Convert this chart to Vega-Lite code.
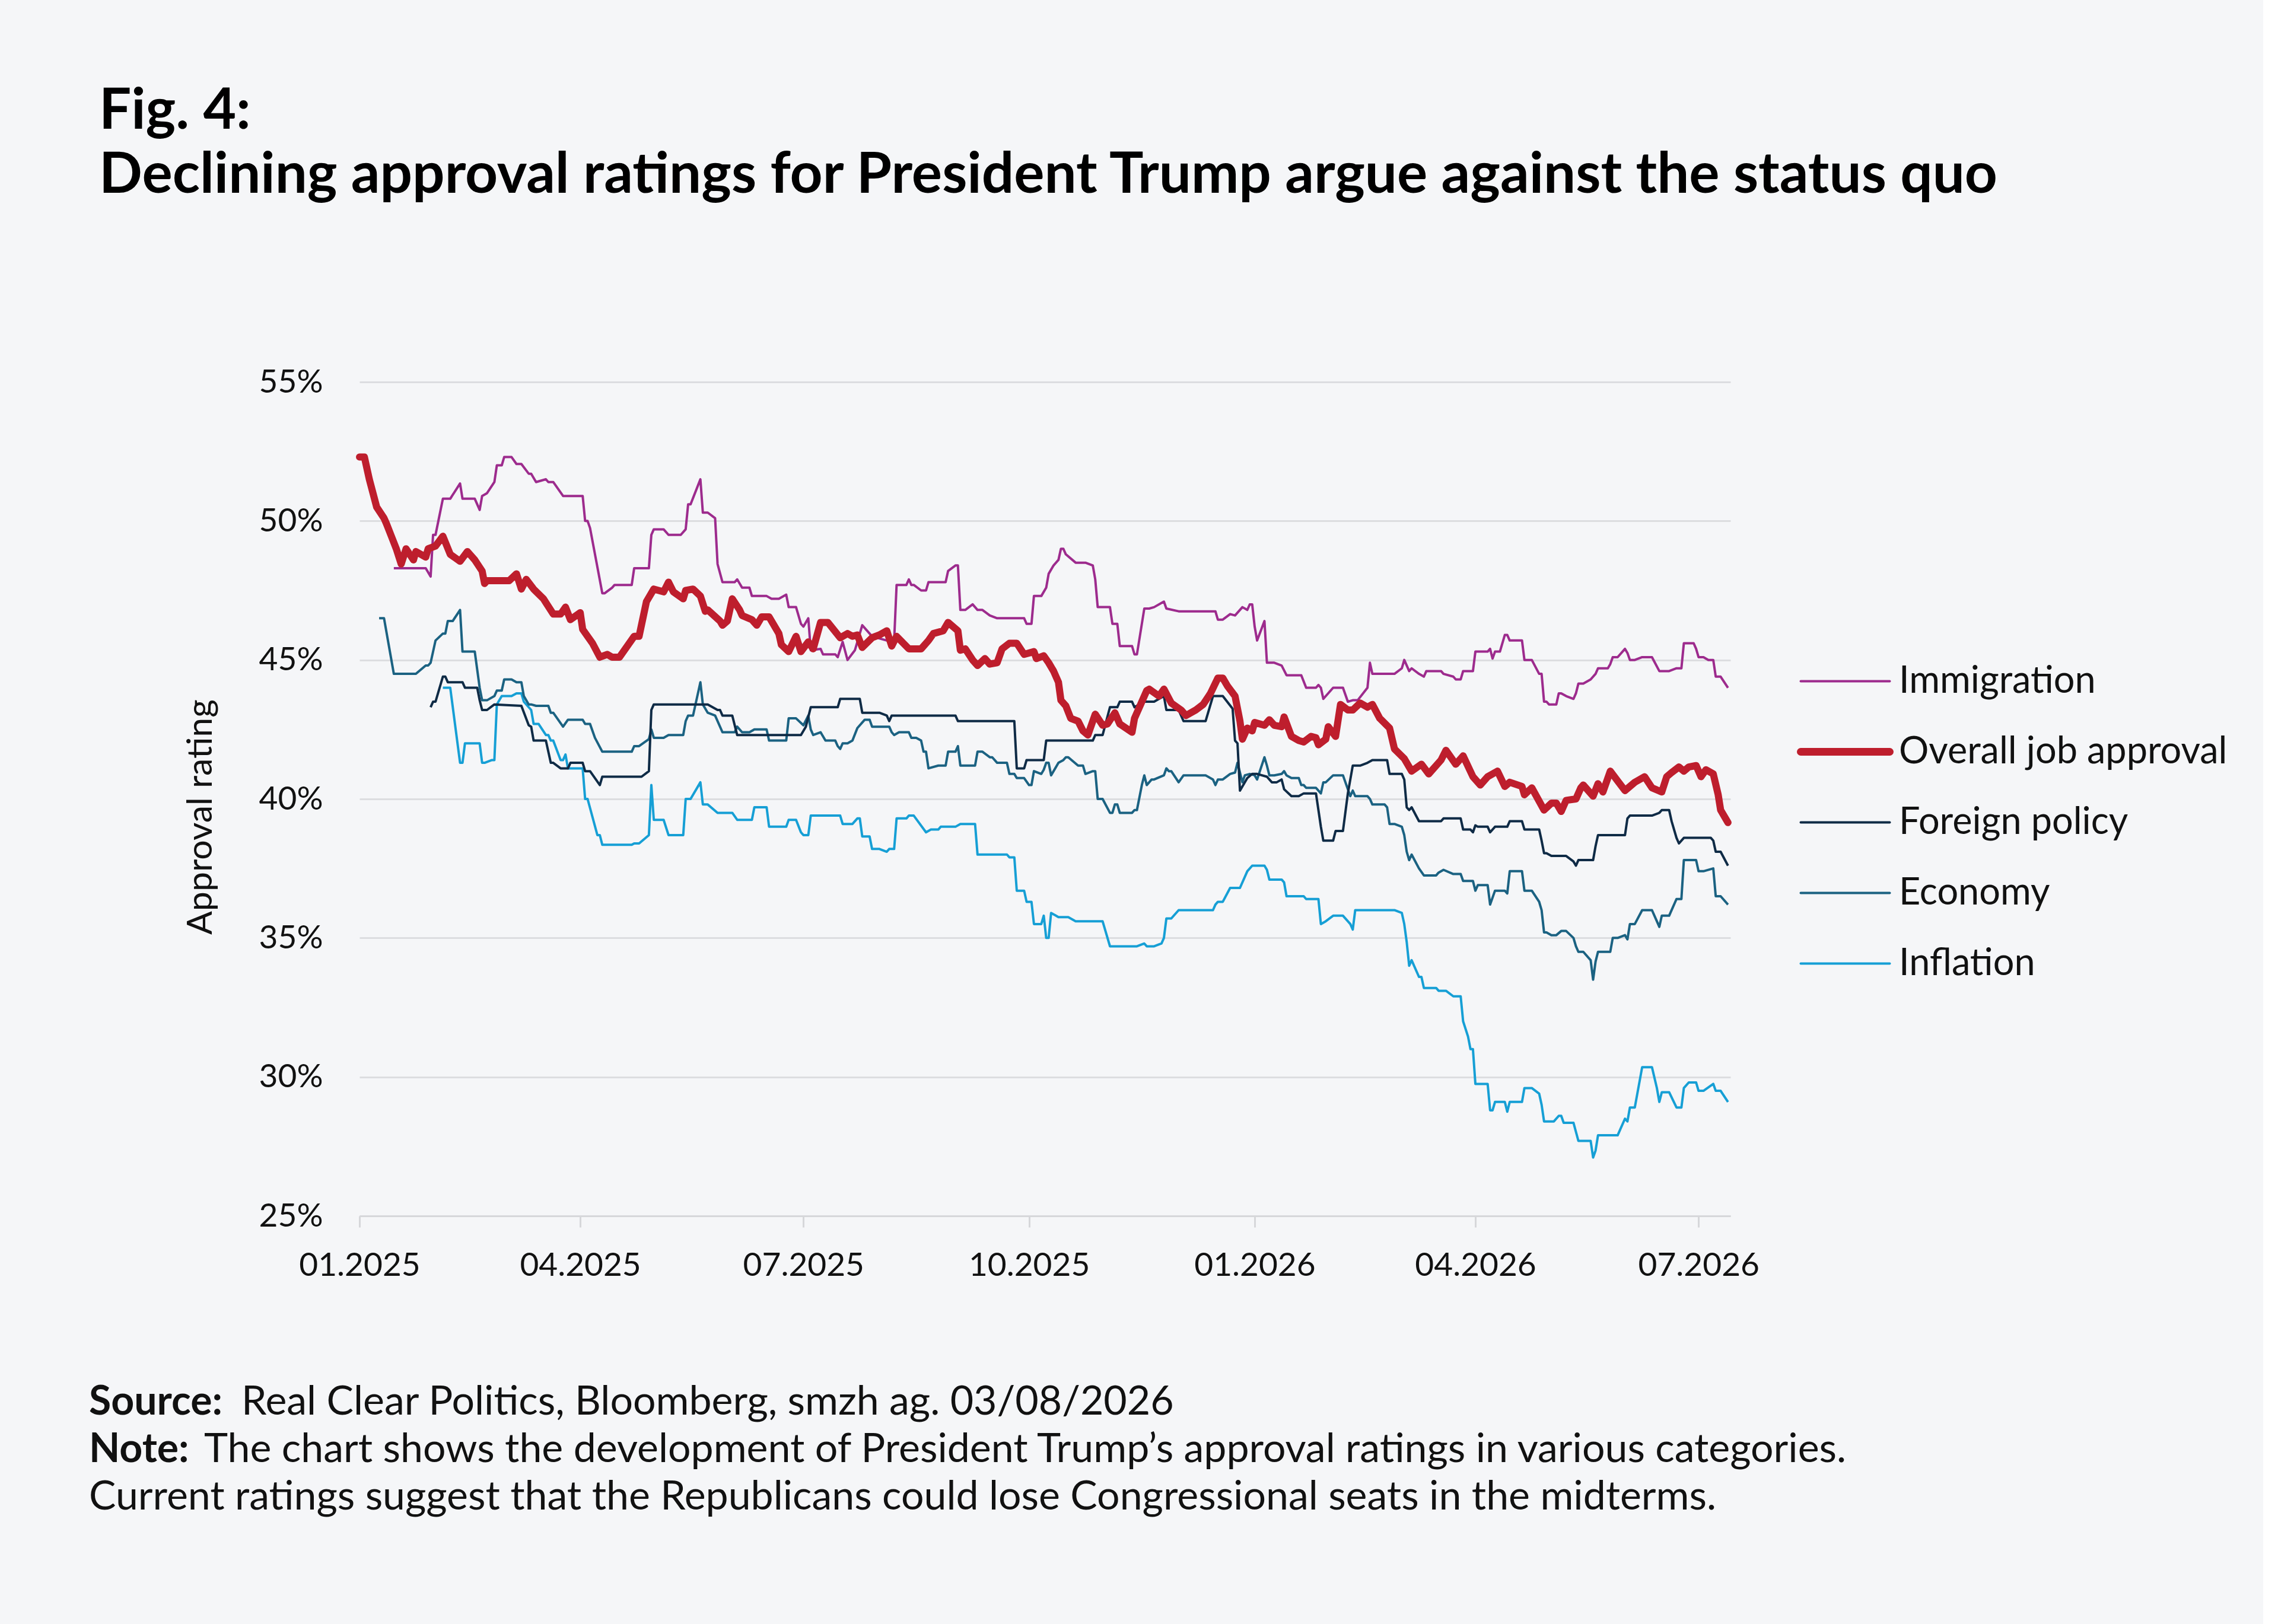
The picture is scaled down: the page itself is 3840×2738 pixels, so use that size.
{
"$schema": "https://vega.github.io/schema/vega-lite/v6.json",
"background": "#f5f6f8",
"padding": {"left": 150, "top": 140, "right": 60, "bottom": 161},
"bounds": "flush",
"spacing": 295,
"title": {"text": ["Fig. 4:", "Declining approval ratings for President Trump argue against the status quo"], "anchor": "start", "frame": "bounds", "font": "Lato", "fontSize": 96, "fontWeight": "bold", "color": "#000000", "lineHeight": 108, "offset": 272, "dx": 17},
"config": {
  "font": "Lato",
  "view": {"stroke": null},
  "axis": {"labelFont": "Lato", "labelFontSize": 55, "labelColor": "#111111", "labelLimit": 0, "titleFont": "Lato", "titleFontSize": 59, "titleFontWeight": "normal", "titleColor": "#111111"}
},
"datasets": {
"inflation": [
{"d":"2025-02-04","v":44.0},{"d":"2025-02-07","v":44.0},{"d":"2025-02-11","v":41.3},{"d":"2025-02-12","v":41.3},{"d":"2025-02-13","v":42.0},{"d":"2025-02-19","v":42.0},{"d":"2025-02-20","v":41.3},{"d":"2025-02-21","v":41.3},{"d":"2025-02-24","v":41.4},{"d":"2025-02-25","v":41.4},{"d":"2025-02-26","v":43.4},{"d":"2025-02-28","v":43.7},{"d":"2025-03-04","v":43.7},{"d":"2025-03-06","v":43.8},{"d":"2025-03-08","v":43.8},{"d":"2025-03-09","v":43.5},{"d":"2025-03-12","v":43.2},{"d":"2025-03-13","v":42.7},{"d":"2025-03-15","v":42.7},{"d":"2025-03-18","v":42.3},{"d":"2025-03-19","v":42.3},{"d":"2025-03-20","v":42.1},{"d":"2025-03-21","v":42.1},{"d":"2025-03-24","v":41.4},{"d":"2025-03-25","v":41.4},{"d":"2025-03-26","v":41.6},{"d":"2025-03-27","v":41.1},{"d":"2025-04-02","v":41.1},{"d":"2025-04-03","v":40.0},{"d":"2025-04-04","v":40.0},{"d":"2025-04-08","v":38.7},{"d":"2025-04-09","v":38.7},{"d":"2025-04-10","v":38.35},{"d":"2025-04-22","v":38.35},{"d":"2025-04-23","v":38.4},{"d":"2025-04-25","v":38.4},{"d":"2025-04-29","v":38.7},{"d":"2025-04-30","v":40.5},{"d":"2025-05-01","v":39.25},{"d":"2025-05-05","v":39.25},{"d":"2025-05-07","v":38.7},{"d":"2025-05-13","v":38.7},{"d":"2025-05-14","v":40.0},{"d":"2025-05-16","v":40.0},{"d":"2025-05-20","v":40.6},{"d":"2025-05-21","v":39.8},{"d":"2025-05-23","v":39.8},{"d":"2025-05-27","v":39.5},{"d":"2025-06-02","v":39.5},{"d":"2025-06-04","v":39.25},{"d":"2025-06-10","v":39.25},{"d":"2025-06-11","v":39.7},{"d":"2025-06-16","v":39.7},{"d":"2025-06-17","v":39.0},{"d":"2025-06-24","v":39.0},{"d":"2025-06-25","v":39.25},{"d":"2025-06-28","v":39.25},{"d":"2025-06-30","v":38.8},{"d":"2025-07-01","v":38.7},{"d":"2025-07-03","v":38.7},{"d":"2025-07-04","v":39.4},{"d":"2025-07-16","v":39.4},{"d":"2025-07-17","v":39.1},{"d":"2025-07-21","v":39.1},{"d":"2025-07-23","v":39.3},{"d":"2025-07-24","v":39.3},{"d":"2025-07-25","v":38.65},{"d":"2025-07-28","v":38.65},{"d":"2025-07-29","v":38.2},{"d":"2025-08-01","v":38.2},{"d":"2025-08-04","v":38.1},{"d":"2025-08-05","v":38.2},{"d":"2025-08-07","v":38.2},{"d":"2025-08-08","v":39.3},{"d":"2025-08-12","v":39.3},{"d":"2025-08-13","v":39.4},{"d":"2025-08-15","v":39.4},{"d":"2025-08-20","v":38.8},{"d":"2025-08-22","v":38.9},{"d":"2025-08-25","v":38.9},{"d":"2025-08-26","v":39.0},{"d":"2025-09-01","v":39.0},{"d":"2025-09-03","v":39.1},{"d":"2025-09-09","v":39.1},{"d":"2025-09-10","v":38.0},{"d":"2025-09-22","v":38.0},{"d":"2025-09-23","v":37.9},{"d":"2025-09-25","v":37.9},{"d":"2025-09-26","v":36.7},{"d":"2025-09-29","v":36.7},{"d":"2025-09-30","v":36.3},{"d":"2025-10-02","v":36.3},{"d":"2025-10-03","v":35.5},{"d":"2025-10-06","v":35.5},{"d":"2025-10-07","v":35.8},{"d":"2025-10-08","v":35.0},{"d":"2025-10-09","v":35.0},{"d":"2025-10-10","v":35.9},{"d":"2025-10-13","v":35.75},{"d":"2025-10-17","v":35.75},{"d":"2025-10-20","v":35.6},{"d":"2025-10-31","v":35.6},{"d":"2025-11-03","v":34.7},{"d":"2025-11-14","v":34.7},{"d":"2025-11-17","v":34.8},{"d":"2025-11-18","v":34.7},{"d":"2025-11-21","v":34.7},{"d":"2025-11-24","v":34.8},{"d":"2025-11-25","v":35.0},{"d":"2025-11-26","v":35.7},{"d":"2025-11-28","v":35.7},{"d":"2025-12-01","v":36.0},{"d":"2025-12-15","v":36.0},{"d":"2025-12-16","v":36.2},{"d":"2025-12-17","v":36.3},{"d":"2025-12-19","v":36.3},{"d":"2025-12-22","v":36.8},{"d":"2025-12-26","v":36.8},{"d":"2025-12-29","v":37.4},{"d":"2025-12-31","v":37.6},{"d":"2026-01-05","v":37.6},{"d":"2026-01-06","v":37.45},{"d":"2026-01-07","v":37.1},{"d":"2026-01-12","v":37.1},{"d":"2026-01-13","v":37.0},{"d":"2026-01-14","v":36.5},{"d":"2026-01-21","v":36.5},{"d":"2026-01-22","v":36.4},{"d":"2026-01-27","v":36.4},{"d":"2026-01-28","v":35.5},{"d":"2026-01-30","v":35.6},{"d":"2026-02-02","v":35.8},{"d":"2026-02-06","v":35.8},{"d":"2026-02-09","v":35.5},{"d":"2026-02-10","v":35.3},{"d":"2026-02-11","v":36.0},{"d":"2026-02-27","v":36.0},{"d":"2026-03-02","v":35.9},{"d":"2026-03-03","v":35.5},{"d":"2026-03-04","v":34.85},{"d":"2026-03-05","v":34.0},{"d":"2026-03-06","v":34.2},{"d":"2026-03-09","v":33.6},{"d":"2026-03-10","v":33.6},{"d":"2026-03-11","v":33.2},{"d":"2026-03-16","v":33.2},{"d":"2026-03-17","v":33.1},{"d":"2026-03-20","v":33.1},{"d":"2026-03-23","v":32.9},{"d":"2026-03-26","v":32.9},{"d":"2026-03-27","v":32.0},{"d":"2026-03-29","v":31.45},{"d":"2026-03-30","v":31.0},{"d":"2026-03-31","v":31.0},{"d":"2026-04-01","v":29.75},{"d":"2026-04-06","v":29.75},{"d":"2026-04-07","v":28.8},{"d":"2026-04-08","v":28.8},{"d":"2026-04-09","v":29.1},{"d":"2026-04-13","v":29.1},{"d":"2026-04-14","v":28.75},{"d":"2026-04-15","v":29.1},{"d":"2026-04-20","v":29.1},{"d":"2026-04-21","v":29.6},{"d":"2026-04-24","v":29.6},{"d":"2026-04-27","v":29.4},{"d":"2026-04-28","v":29.0},{"d":"2026-04-29","v":28.4},{"d":"2026-05-03","v":28.4},{"d":"2026-05-05","v":28.6},{"d":"2026-05-06","v":28.6},{"d":"2026-05-07","v":28.35},{"d":"2026-05-11","v":28.35},{"d":"2026-05-13","v":27.7},{"d":"2026-05-18","v":27.7},{"d":"2026-05-19","v":27.1},{"d":"2026-05-20","v":27.35},{"d":"2026-05-21","v":27.9},{"d":"2026-05-29","v":27.9},{"d":"2026-06-01","v":28.5},{"d":"2026-06-02","v":28.4},{"d":"2026-06-03","v":28.9},{"d":"2026-06-05","v":28.9},{"d":"2026-06-08","v":30.35},{"d":"2026-06-12","v":30.35},{"d":"2026-06-14","v":29.6},{"d":"2026-06-15","v":29.1},{"d":"2026-06-16","v":29.45},{"d":"2026-06-19","v":29.45},{"d":"2026-06-22","v":28.9},{"d":"2026-06-24","v":28.9},{"d":"2026-06-25","v":29.6},{"d":"2026-06-27","v":29.8},{"d":"2026-06-30","v":29.8},{"d":"2026-07-01","v":29.5},{"d":"2026-07-03","v":29.5},{"d":"2026-07-07","v":29.75},{"d":"2026-07-08","v":29.5},{"d":"2026-07-10","v":29.5},{"d":"2026-07-13","v":29.1}
],
"economy": [
{"d":"2025-01-09","v":46.5},{"d":"2025-01-11","v":46.5},{"d":"2025-01-14","v":45.0},{"d":"2025-01-15","v":44.5},{"d":"2025-01-24","v":44.5},{"d":"2025-01-28","v":44.8},{"d":"2025-01-29","v":44.8},{"d":"2025-01-30","v":44.9},{"d":"2025-02-01","v":45.7},{"d":"2025-02-04","v":45.95},{"d":"2025-02-05","v":45.95},{"d":"2025-02-06","v":46.4},{"d":"2025-02-08","v":46.4},{"d":"2025-02-11","v":46.8},{"d":"2025-02-12","v":45.3},{"d":"2025-02-17","v":45.3},{"d":"2025-02-19","v":44.0},{"d":"2025-02-20","v":43.55},{"d":"2025-02-22","v":43.55},{"d":"2025-02-25","v":43.7},{"d":"2025-02-26","v":43.9},{"d":"2025-02-28","v":43.9},{"d":"2025-03-01","v":44.3},{"d":"2025-03-04","v":44.3},{"d":"2025-03-06","v":44.2},{"d":"2025-03-08","v":44.2},{"d":"2025-03-09","v":43.7},{"d":"2025-03-11","v":43.4},{"d":"2025-03-12","v":43.4},{"d":"2025-03-14","v":43.35},{"d":"2025-03-19","v":43.35},{"d":"2025-03-20","v":43.1},{"d":"2025-03-21","v":43.1},{"d":"2025-03-25","v":42.6},{"d":"2025-03-27","v":42.85},{"d":"2025-04-02","v":42.85},{"d":"2025-04-03","v":42.7},{"d":"2025-04-05","v":42.7},{"d":"2025-04-07","v":42.2},{"d":"2025-04-10","v":41.7},{"d":"2025-04-22","v":41.7},{"d":"2025-04-23","v":41.9},{"d":"2025-04-25","v":41.9},{"d":"2025-04-29","v":42.15},{"d":"2025-04-30","v":42.5},{"d":"2025-05-01","v":42.2},{"d":"2025-05-05","v":42.2},{"d":"2025-05-07","v":42.3},{"d":"2025-05-13","v":42.3},{"d":"2025-05-14","v":42.8},{"d":"2025-05-15","v":43.0},{"d":"2025-05-17","v":43.0},{"d":"2025-05-20","v":44.2},{"d":"2025-05-21","v":43.4},{"d":"2025-05-23","v":43.1},{"d":"2025-05-26","v":43.0},{"d":"2025-05-29","v":42.4},{"d":"2025-06-03","v":42.4},{"d":"2025-06-04","v":42.6},{"d":"2025-06-06","v":42.4},{"d":"2025-06-09","v":42.4},{"d":"2025-06-11","v":42.5},{"d":"2025-06-16","v":42.5},{"d":"2025-06-17","v":42.1},{"d":"2025-06-24","v":42.1},{"d":"2025-06-25","v":42.9},{"d":"2025-06-28","v":42.9},{"d":"2025-07-01","v":42.65},{"d":"2025-07-03","v":43.0},{"d":"2025-07-04","v":42.5},{"d":"2025-07-05","v":42.3},{"d":"2025-07-08","v":42.4},{"d":"2025-07-10","v":42.1},{"d":"2025-07-14","v":42.1},{"d":"2025-07-15","v":41.9},{"d":"2025-07-16","v":41.8},{"d":"2025-07-17","v":42.0},{"d":"2025-07-19","v":42.0},{"d":"2025-07-21","v":42.1},{"d":"2025-07-23","v":42.55},{"d":"2025-07-26","v":42.85},{"d":"2025-07-28","v":42.85},{"d":"2025-07-29","v":42.6},{"d":"2025-08-05","v":42.6},{"d":"2025-08-06","v":42.4},{"d":"2025-08-07","v":42.3},{"d":"2025-08-09","v":42.4},{"d":"2025-08-13","v":42.4},{"d":"2025-08-14","v":42.2},{"d":"2025-08-16","v":42.2},{"d":"2025-08-18","v":42.1},{"d":"2025-08-19","v":41.7},{"d":"2025-08-20","v":41.7},{"d":"2025-08-21","v":41.1},{"d":"2025-08-25","v":41.2},{"d":"2025-08-28","v":41.2},{"d":"2025-08-29","v":41.7},{"d":"2025-09-01","v":41.7},{"d":"2025-09-02","v":41.9},{"d":"2025-09-03","v":41.2},{"d":"2025-09-09","v":41.2},{"d":"2025-09-10","v":41.7},{"d":"2025-09-12","v":41.7},{"d":"2025-09-15","v":41.5},{"d":"2025-09-16","v":41.5},{"d":"2025-09-18","v":41.3},{"d":"2025-09-22","v":41.3},{"d":"2025-09-23","v":40.9},{"d":"2025-09-25","v":40.9},{"d":"2025-09-26","v":40.75},{"d":"2025-09-29","v":40.75},{"d":"2025-10-01","v":40.5},{"d":"2025-10-02","v":40.5},{"d":"2025-10-03","v":41.0},{"d":"2025-10-06","v":40.9},{"d":"2025-10-07","v":41.05},{"d":"2025-10-08","v":41.3},{"d":"2025-10-09","v":41.3},{"d":"2025-10-10","v":40.85},{"d":"2025-10-13","v":41.3},{"d":"2025-10-15","v":41.4},{"d":"2025-10-16","v":41.5},{"d":"2025-10-17","v":41.5},{"d":"2025-10-21","v":41.2},{"d":"2025-10-23","v":41.2},{"d":"2025-10-24","v":40.9},{"d":"2025-10-27","v":41.0},{"d":"2025-10-28","v":41.0},{"d":"2025-10-29","v":40.0},{"d":"2025-10-31","v":40.0},{"d":"2025-11-03","v":39.5},{"d":"2025-11-04","v":39.5},{"d":"2025-11-05","v":39.8},{"d":"2025-11-06","v":39.8},{"d":"2025-11-07","v":39.5},{"d":"2025-11-12","v":39.5},{"d":"2025-11-13","v":39.6},{"d":"2025-11-14","v":39.6},{"d":"2025-11-16","v":40.5},{"d":"2025-11-17","v":40.85},{"d":"2025-11-18","v":40.5},{"d":"2025-11-20","v":40.7},{"d":"2025-11-21","v":40.7},{"d":"2025-11-25","v":40.85},{"d":"2025-11-26","v":41.1},{"d":"2025-11-27","v":41.0},{"d":"2025-11-28","v":41.0},{"d":"2025-12-01","v":40.6},{"d":"2025-12-03","v":40.85},{"d":"2025-12-12","v":40.85},{"d":"2025-12-15","v":40.7},{"d":"2025-12-16","v":40.5},{"d":"2025-12-17","v":40.7},{"d":"2025-12-19","v":40.7},{"d":"2025-12-22","v":40.9},{"d":"2025-12-24","v":40.95},{"d":"2025-12-25","v":41.3},{"d":"2025-12-27","v":40.6},{"d":"2025-12-28","v":40.85},{"d":"2025-12-30","v":40.9},{"d":"2026-01-01","v":40.85},{"d":"2026-01-02","v":40.7},{"d":"2026-01-05","v":41.5},{"d":"2026-01-06","v":41.2},{"d":"2026-01-07","v":40.85},{"d":"2026-01-09","v":40.85},{"d":"2026-01-12","v":40.9},{"d":"2026-01-13","v":41.0},{"d":"2026-01-14","v":40.85},{"d":"2026-01-16","v":40.75},{"d":"2026-01-19","v":40.75},{"d":"2026-01-20","v":40.5},{"d":"2026-01-21","v":40.5},{"d":"2026-01-22","v":40.4},{"d":"2026-01-26","v":40.4},{"d":"2026-01-28","v":40.2},{"d":"2026-01-29","v":40.6},{"d":"2026-01-30","v":40.6},{"d":"2026-02-02","v":40.85},{"d":"2026-02-06","v":40.85},{"d":"2026-02-08","v":40.35},{"d":"2026-02-09","v":40.1},{"d":"2026-02-10","v":40.3},{"d":"2026-02-11","v":40.1},{"d":"2026-02-16","v":40.1},{"d":"2026-02-17","v":40.0},{"d":"2026-02-18","v":39.8},{"d":"2026-02-23","v":39.8},{"d":"2026-02-24","v":39.7},{"d":"2026-02-25","v":39.1},{"d":"2026-02-27","v":39.1},{"d":"2026-03-02","v":39.0},{"d":"2026-03-03","v":38.7},{"d":"2026-03-04","v":38.1},{"d":"2026-03-05","v":37.8},{"d":"2026-03-06","v":38.0},{"d":"2026-03-09","v":37.5},{"d":"2026-03-11","v":37.25},{"d":"2026-03-16","v":37.25},{"d":"2026-03-17","v":37.35},{"d":"2026-03-19","v":37.45},{"d":"2026-03-23","v":37.3},{"d":"2026-03-26","v":37.3},{"d":"2026-03-27","v":37.05},{"d":"2026-03-31","v":37.05},{"d":"2026-04-01","v":36.7},{"d":"2026-04-02","v":36.9},{"d":"2026-04-06","v":36.9},{"d":"2026-04-07","v":36.2},{"d":"2026-04-08","v":36.45},{"d":"2026-04-09","v":36.7},{"d":"2026-04-13","v":36.7},{"d":"2026-04-14","v":36.6},{"d":"2026-04-15","v":37.4},{"d":"2026-04-20","v":37.4},{"d":"2026-04-21","v":36.7},{"d":"2026-04-24","v":36.7},{"d":"2026-04-27","v":36.3},{"d":"2026-04-28","v":36.0},{"d":"2026-04-29","v":35.2},{"d":"2026-04-30","v":35.2},{"d":"2026-05-02","v":35.1},{"d":"2026-05-04","v":35.1},{"d":"2026-05-06","v":35.25},{"d":"2026-05-08","v":35.25},{"d":"2026-05-11","v":35.0},{"d":"2026-05-12","v":34.7},{"d":"2026-05-13","v":34.5},{"d":"2026-05-15","v":34.5},{"d":"2026-05-18","v":34.2},{"d":"2026-05-19","v":33.5},{"d":"2026-05-20","v":34.15},{"d":"2026-05-21","v":34.5},{"d":"2026-05-26","v":34.5},{"d":"2026-05-27","v":35.0},{"d":"2026-05-29","v":35.0},{"d":"2026-06-01","v":35.1},{"d":"2026-06-02","v":34.95},{"d":"2026-06-03","v":35.5},{"d":"2026-06-05","v":35.5},{"d":"2026-06-08","v":36.0},{"d":"2026-06-12","v":36.0},{"d":"2026-06-15","v":35.4},{"d":"2026-06-16","v":35.8},{"d":"2026-06-19","v":35.8},{"d":"2026-06-22","v":36.4},{"d":"2026-06-24","v":36.4},{"d":"2026-06-25","v":37.8},{"d":"2026-06-30","v":37.8},{"d":"2026-07-01","v":37.4},{"d":"2026-07-03","v":37.4},{"d":"2026-07-07","v":37.5},{"d":"2026-07-08","v":36.5},{"d":"2026-07-10","v":36.5},{"d":"2026-07-13","v":36.2}
],
"foreign": [
{"d":"2025-01-30","v":43.3},{"d":"2025-01-31","v":43.5},{"d":"2025-02-01","v":43.5},{"d":"2025-02-04","v":44.4},{"d":"2025-02-05","v":44.4},{"d":"2025-02-06","v":44.2},{"d":"2025-02-12","v":44.2},{"d":"2025-02-13","v":44.0},{"d":"2025-02-18","v":44.0},{"d":"2025-02-19","v":43.55},{"d":"2025-02-20","v":43.2},{"d":"2025-02-22","v":43.2},{"d":"2025-02-25","v":43.4},{"d":"2025-03-08","v":43.35},{"d":"2025-03-11","v":42.65},{"d":"2025-03-12","v":42.6},{"d":"2025-03-13","v":42.1},{"d":"2025-03-18","v":42.1},{"d":"2025-03-20","v":41.3},{"d":"2025-03-21","v":41.3},{"d":"2025-03-24","v":41.1},{"d":"2025-03-27","v":41.1},{"d":"2025-03-28","v":41.3},{"d":"2025-04-02","v":41.3},{"d":"2025-04-03","v":41.0},{"d":"2025-04-05","v":41.0},{"d":"2025-04-09","v":40.5},{"d":"2025-04-10","v":40.8},{"d":"2025-04-26","v":40.8},{"d":"2025-04-29","v":41.0},{"d":"2025-04-30","v":43.2},{"d":"2025-05-01","v":43.4},{"d":"2025-05-23","v":43.4},{"d":"2025-05-27","v":43.2},{"d":"2025-05-28","v":43.2},{"d":"2025-05-29","v":43.0},{"d":"2025-06-02","v":43.0},{"d":"2025-06-04","v":42.3},{"d":"2025-06-30","v":42.3},{"d":"2025-07-02","v":42.6},{"d":"2025-07-04","v":43.3},{"d":"2025-07-15","v":43.3},{"d":"2025-07-16","v":43.6},{"d":"2025-07-24","v":43.6},{"d":"2025-07-25","v":43.1},{"d":"2025-08-01","v":43.1},{"d":"2025-08-04","v":43.0},{"d":"2025-08-05","v":42.8},{"d":"2025-08-06","v":43.0},{"d":"2025-09-01","v":43.0},{"d":"2025-09-02","v":42.8},{"d":"2025-09-25","v":42.8},{"d":"2025-09-26","v":41.1},{"d":"2025-09-29","v":41.1},{"d":"2025-09-30","v":41.4},{"d":"2025-10-07","v":41.4},{"d":"2025-10-08","v":42.1},{"d":"2025-10-27","v":42.1},{"d":"2025-10-28","v":42.3},{"d":"2025-10-31","v":42.3},{"d":"2025-11-03","v":43.3},{"d":"2025-11-06","v":43.3},{"d":"2025-11-07","v":43.5},{"d":"2025-11-12","v":43.5},{"d":"2025-11-13","v":43.3},{"d":"2025-11-17","v":43.5},{"d":"2025-11-21","v":43.5},{"d":"2025-11-25","v":43.7},{"d":"2025-11-26","v":43.2},{"d":"2025-12-01","v":43.2},{"d":"2025-12-03","v":42.8},{"d":"2025-12-12","v":42.8},{"d":"2025-12-15","v":43.7},{"d":"2025-12-19","v":43.7},{"d":"2025-12-23","v":43.25},{"d":"2025-12-24","v":42.1},{"d":"2025-12-25","v":42.0},{"d":"2025-12-26","v":40.3},{"d":"2025-12-29","v":40.75},{"d":"2025-12-31","v":40.9},{"d":"2026-01-02","v":40.9},{"d":"2026-01-06","v":40.8},{"d":"2026-01-08","v":40.6},{"d":"2026-01-10","v":40.6},{"d":"2026-01-12","v":40.7},{"d":"2026-01-13","v":40.35},{"d":"2026-01-16","v":40.1},{"d":"2026-01-19","v":40.1},{"d":"2026-01-21","v":40.2},{"d":"2026-01-26","v":40.2},{"d":"2026-01-28","v":39.0},{"d":"2026-01-29","v":38.5},{"d":"2026-02-02","v":38.5},{"d":"2026-02-03","v":38.85},{"d":"2026-02-06","v":38.85},{"d":"2026-02-08","v":40.2},{"d":"2026-02-10","v":41.2},{"d":"2026-02-13","v":41.2},{"d":"2026-02-16","v":41.3},{"d":"2026-02-18","v":41.4},{"d":"2026-02-24","v":41.4},{"d":"2026-02-25","v":40.9},{"d":"2026-03-02","v":40.9},{"d":"2026-03-03","v":40.7},{"d":"2026-03-04","v":39.7},{"d":"2026-03-05","v":39.6},{"d":"2026-03-06","v":39.7},{"d":"2026-03-09","v":39.2},{"d":"2026-03-18","v":39.2},{"d":"2026-03-19","v":39.3},{"d":"2026-03-26","v":39.3},{"d":"2026-03-27","v":38.9},{"d":"2026-03-30","v":38.9},{"d":"2026-03-31","v":38.8},{"d":"2026-04-01","v":39.05},{"d":"2026-04-02","v":39.0},{"d":"2026-04-06","v":39.0},{"d":"2026-04-07","v":38.8},{"d":"2026-04-09","v":39.0},{"d":"2026-04-14","v":39.0},{"d":"2026-04-15","v":39.2},{"d":"2026-04-20","v":39.2},{"d":"2026-04-21","v":38.9},{"d":"2026-04-27","v":38.9},{"d":"2026-04-28","v":38.5},{"d":"2026-04-29","v":38.05},{"d":"2026-04-30","v":38.05},{"d":"2026-05-02","v":37.95},{"d":"2026-05-08","v":37.95},{"d":"2026-05-11","v":37.75},{"d":"2026-05-12","v":37.6},{"d":"2026-05-13","v":37.8},{"d":"2026-05-19","v":37.8},{"d":"2026-05-20","v":38.3},{"d":"2026-05-21","v":38.7},{"d":"2026-06-01","v":38.7},{"d":"2026-06-02","v":39.3},{"d":"2026-06-03","v":39.4},{"d":"2026-06-12","v":39.4},{"d":"2026-06-15","v":39.5},{"d":"2026-06-16","v":39.6},{"d":"2026-06-19","v":39.6},{"d":"2026-06-20","v":39.2},{"d":"2026-06-22","v":38.6},{"d":"2026-06-23","v":38.4},{"d":"2026-06-25","v":38.6},{"d":"2026-07-06","v":38.6},{"d":"2026-07-07","v":38.5},{"d":"2026-07-08","v":38.1},{"d":"2026-07-10","v":38.1},{"d":"2026-07-13","v":37.6}
],
"immigration": [
{"d":"2025-01-15","v":48.3},{"d":"2025-01-28","v":48.3},{"d":"2025-01-30","v":48.0},{"d":"2025-01-31","v":49.5},{"d":"2025-02-01","v":49.5},{"d":"2025-02-04","v":50.8},{"d":"2025-02-07","v":50.8},{"d":"2025-02-11","v":51.35},{"d":"2025-02-12","v":50.8},{"d":"2025-02-17","v":50.8},{"d":"2025-02-19","v":50.4},{"d":"2025-02-20","v":50.9},{"d":"2025-02-22","v":51.0},{"d":"2025-02-25","v":51.4},{"d":"2025-02-26","v":52.0},{"d":"2025-02-28","v":52.0},{"d":"2025-03-01","v":52.3},{"d":"2025-03-04","v":52.3},{"d":"2025-03-06","v":52.05},{"d":"2025-03-08","v":52.05},{"d":"2025-03-11","v":51.7},{"d":"2025-03-12","v":51.7},{"d":"2025-03-14","v":51.4},{"d":"2025-03-18","v":51.5},{"d":"2025-03-19","v":51.4},{"d":"2025-03-21","v":51.4},{"d":"2025-03-25","v":50.9},{"d":"2025-04-02","v":50.9},{"d":"2025-04-03","v":50.0},{"d":"2025-04-04","v":50.0},{"d":"2025-04-05","v":49.75},{"d":"2025-04-10","v":47.4},{"d":"2025-04-11","v":47.4},{"d":"2025-04-14","v":47.6},{"d":"2025-04-15","v":47.7},{"d":"2025-04-22","v":47.7},{"d":"2025-04-23","v":48.3},{"d":"2025-04-29","v":48.3},{"d":"2025-04-30","v":49.5},{"d":"2025-05-01","v":49.7},{"d":"2025-05-05","v":49.7},{"d":"2025-05-07","v":49.5},{"d":"2025-05-12","v":49.5},{"d":"2025-05-14","v":49.7},{"d":"2025-05-15","v":50.6},{"d":"2025-05-16","v":50.6},{"d":"2025-05-20","v":51.5},{"d":"2025-05-21","v":50.3},{"d":"2025-05-23","v":50.3},{"d":"2025-05-26","v":50.1},{"d":"2025-05-27","v":48.45},{"d":"2025-05-29","v":47.8},{"d":"2025-06-03","v":47.8},{"d":"2025-06-04","v":47.9},{"d":"2025-06-06","v":47.6},{"d":"2025-06-09","v":47.6},{"d":"2025-06-10","v":47.3},{"d":"2025-06-16","v":47.3},{"d":"2025-06-18","v":47.2},{"d":"2025-06-21","v":47.2},{"d":"2025-06-24","v":47.35},{"d":"2025-06-25","v":46.9},{"d":"2025-06-28","v":46.9},{"d":"2025-06-30","v":46.3},{"d":"2025-07-01","v":46.2},{"d":"2025-07-03","v":46.5},{"d":"2025-07-04","v":45.35},{"d":"2025-07-08","v":45.4},{"d":"2025-07-09","v":45.2},{"d":"2025-07-14","v":45.2},{"d":"2025-07-15","v":45.1},{"d":"2025-07-17","v":45.65},{"d":"2025-07-19","v":45.0},{"d":"2025-07-22","v":45.35},{"d":"2025-07-25","v":46.25},{"d":"2025-07-29","v":45.85},{"d":"2025-08-04","v":45.7},{"d":"2025-08-07","v":45.7},{"d":"2025-08-08","v":47.7},{"d":"2025-08-12","v":47.7},{"d":"2025-08-13","v":47.9},{"d":"2025-08-14","v":47.7},{"d":"2025-08-15","v":47.7},{"d":"2025-08-18","v":47.5},{"d":"2025-08-20","v":47.5},{"d":"2025-08-21","v":47.8},{"d":"2025-08-28","v":47.8},{"d":"2025-08-29","v":48.2},{"d":"2025-09-01","v":48.4},{"d":"2025-09-02","v":48.4},{"d":"2025-09-03","v":46.8},{"d":"2025-09-05","v":46.8},{"d":"2025-09-08","v":47.0},{"d":"2025-09-10","v":46.8},{"d":"2025-09-12","v":46.8},{"d":"2025-09-15","v":46.6},{"d":"2025-09-18","v":46.5},{"d":"2025-09-29","v":46.5},{"d":"2025-09-30","v":46.3},{"d":"2025-10-02","v":46.3},{"d":"2025-10-03","v":47.3},{"d":"2025-10-06","v":47.3},{"d":"2025-10-08","v":47.6},{"d":"2025-10-09","v":48.1},{"d":"2025-10-11","v":48.4},{"d":"2025-10-13","v":48.6},{"d":"2025-10-14","v":49.0},{"d":"2025-10-15","v":49.0},{"d":"2025-10-16","v":48.8},{"d":"2025-10-20","v":48.5},{"d":"2025-10-24","v":48.5},{"d":"2025-10-27","v":48.4},{"d":"2025-10-28","v":47.9},{"d":"2025-10-29","v":46.9},{"d":"2025-11-03","v":46.9},{"d":"2025-11-04","v":46.3},{"d":"2025-11-06","v":46.3},{"d":"2025-11-07","v":45.5},{"d":"2025-11-12","v":45.5},{"d":"2025-11-13","v":45.2},{"d":"2025-11-14","v":45.2},{"d":"2025-11-17","v":46.85},{"d":"2025-11-19","v":46.85},{"d":"2025-11-21","v":46.9},{"d":"2025-11-25","v":47.1},{"d":"2025-11-26","v":46.85},{"d":"2025-12-01","v":46.75},{"d":"2025-12-16","v":46.75},{"d":"2025-12-17","v":46.45},{"d":"2025-12-19","v":46.45},{"d":"2025-12-22","v":46.65},{"d":"2025-12-24","v":46.6},{"d":"2025-12-27","v":46.9},{"d":"2025-12-29","v":46.8},{"d":"2025-12-30","v":47.0},{"d":"2025-12-31","v":47.0},{"d":"2026-01-01","v":46.2},{"d":"2026-01-02","v":45.7},{"d":"2026-01-05","v":46.4},{"d":"2026-01-06","v":44.9},{"d":"2026-01-09","v":44.9},{"d":"2026-01-12","v":44.8},{"d":"2026-01-14","v":44.45},{"d":"2026-01-20","v":44.45},{"d":"2026-01-22","v":44.0},{"d":"2026-01-26","v":44.0},{"d":"2026-01-27","v":44.1},{"d":"2026-01-28","v":44.0},{"d":"2026-01-29","v":43.6},{"d":"2026-02-02","v":44.0},{"d":"2026-02-06","v":44.0},{"d":"2026-02-08","v":43.5},{"d":"2026-02-10","v":43.55},{"d":"2026-02-12","v":43.55},{"d":"2026-02-16","v":44.0},{"d":"2026-02-17","v":44.9},{"d":"2026-02-18","v":44.5},{"d":"2026-02-27","v":44.5},{"d":"2026-03-02","v":44.7},{"d":"2026-03-03","v":45.0},{"d":"2026-03-05","v":44.6},{"d":"2026-03-06","v":44.7},{"d":"2026-03-09","v":44.5},{"d":"2026-03-11","v":44.4},{"d":"2026-03-12","v":44.6},{"d":"2026-03-18","v":44.6},{"d":"2026-03-19","v":44.5},{"d":"2026-03-23","v":44.4},{"d":"2026-03-24","v":44.3},{"d":"2026-03-26","v":44.3},{"d":"2026-03-27","v":44.6},{"d":"2026-03-31","v":44.6},{"d":"2026-04-01","v":45.3},{"d":"2026-04-06","v":45.3},{"d":"2026-04-07","v":45.4},{"d":"2026-04-08","v":45.05},{"d":"2026-04-09","v":45.3},{"d":"2026-04-11","v":45.3},{"d":"2026-04-13","v":45.9},{"d":"2026-04-14","v":45.9},{"d":"2026-04-15","v":45.7},{"d":"2026-04-20","v":45.7},{"d":"2026-04-21","v":45.0},{"d":"2026-04-24","v":45.0},{"d":"2026-04-27","v":44.5},{"d":"2026-04-28","v":44.5},{"d":"2026-04-29","v":43.5},{"d":"2026-04-30","v":43.5},{"d":"2026-05-01","v":43.4},{"d":"2026-05-04","v":43.4},{"d":"2026-05-05","v":43.8},{"d":"2026-05-06","v":43.8},{"d":"2026-05-08","v":43.7},{"d":"2026-05-11","v":43.6},{"d":"2026-05-12","v":43.8},{"d":"2026-05-13","v":44.15},{"d":"2026-05-15","v":44.15},{"d":"2026-05-18","v":44.3},{"d":"2026-05-20","v":44.5},{"d":"2026-05-21","v":44.7},{"d":"2026-05-25","v":44.7},{"d":"2026-05-26","v":44.85},{"d":"2026-05-27","v":45.1},{"d":"2026-05-29","v":45.1},{"d":"2026-06-01","v":45.4},{"d":"2026-06-02","v":45.25},{"d":"2026-06-03","v":45.0},{"d":"2026-06-05","v":45.0},{"d":"2026-06-08","v":45.1},{"d":"2026-06-12","v":45.1},{"d":"2026-06-15","v":44.6},{"d":"2026-06-19","v":44.6},{"d":"2026-06-22","v":44.7},{"d":"2026-06-24","v":44.7},{"d":"2026-06-25","v":45.6},{"d":"2026-06-29","v":45.6},{"d":"2026-06-30","v":45.4},{"d":"2026-07-01","v":45.1},{"d":"2026-07-03","v":45.1},{"d":"2026-07-05","v":45.0},{"d":"2026-07-07","v":45.0},{"d":"2026-07-08","v":44.4},{"d":"2026-07-10","v":44.4},{"d":"2026-07-13","v":44.0}
],
"overall": [
{"d":"2025-01-01","v":52.3},{"d":"2025-01-03","v":52.3},{"d":"2025-01-05","v":51.5},{"d":"2025-01-08","v":50.5},{"d":"2025-01-11","v":50.1},{"d":"2025-01-12","v":49.9},{"d":"2025-01-14","v":49.45},{"d":"2025-01-16","v":49.0},{"d":"2025-01-18","v":48.45},{"d":"2025-01-20","v":49.0},{"d":"2025-01-23","v":48.6},{"d":"2025-01-24","v":48.9},{"d":"2025-01-28","v":48.7},{"d":"2025-01-29","v":49.0},{"d":"2025-02-01","v":49.1},{"d":"2025-02-04","v":49.45},{"d":"2025-02-07","v":48.8},{"d":"2025-02-11","v":48.55},{"d":"2025-02-14","v":48.9},{"d":"2025-02-17","v":48.6},{"d":"2025-02-20","v":48.2},{"d":"2025-02-21","v":47.75},{"d":"2025-02-22","v":47.85},{"d":"2025-03-03","v":47.85},{"d":"2025-03-06","v":48.1},{"d":"2025-03-08","v":47.55},{"d":"2025-03-10","v":47.9},{"d":"2025-03-13","v":47.55},{"d":"2025-03-17","v":47.2},{"d":"2025-03-21","v":46.65},{"d":"2025-03-24","v":46.65},{"d":"2025-03-26","v":46.9},{"d":"2025-03-28","v":46.45},{"d":"2025-04-01","v":46.7},{"d":"2025-04-02","v":46.1},{"d":"2025-04-06","v":45.6},{"d":"2025-04-09","v":45.1},{"d":"2025-04-12","v":45.2},{"d":"2025-04-14","v":45.1},{"d":"2025-04-17","v":45.1},{"d":"2025-04-23","v":45.85},{"d":"2025-04-25","v":45.85},{"d":"2025-04-28","v":47.1},{"d":"2025-05-01","v":47.55},{"d":"2025-05-05","v":47.45},{"d":"2025-05-07","v":47.8},{"d":"2025-05-09","v":47.45},{"d":"2025-05-13","v":47.2},{"d":"2025-05-14","v":47.5},{"d":"2025-05-17","v":47.55},{"d":"2025-05-20","v":47.3},{"d":"2025-05-22","v":46.75},{"d":"2025-05-23","v":46.8},{"d":"2025-05-28","v":46.4},{"d":"2025-05-29","v":46.25},{"d":"2025-05-31","v":46.4},{"d":"2025-06-02","v":47.2},{"d":"2025-06-05","v":46.8},{"d":"2025-06-06","v":46.6},{"d":"2025-06-10","v":46.45},{"d":"2025-06-12","v":46.25},{"d":"2025-06-14","v":46.55},{"d":"2025-06-17","v":46.55},{"d":"2025-06-21","v":45.95},{"d":"2025-06-22","v":45.55},{"d":"2025-06-25","v":45.3},{"d":"2025-06-28","v":45.85},{"d":"2025-06-30","v":45.3},{"d":"2025-07-03","v":45.65},{"d":"2025-07-05","v":45.4},{"d":"2025-07-08","v":46.35},{"d":"2025-07-11","v":46.35},{"d":"2025-07-16","v":45.8},{"d":"2025-07-19","v":45.95},{"d":"2025-07-21","v":45.85},{"d":"2025-07-23","v":45.9},{"d":"2025-07-25","v":45.45},{"d":"2025-07-29","v":45.8},{"d":"2025-08-01","v":45.9},{"d":"2025-08-04","v":46.05},{"d":"2025-08-06","v":45.5},{"d":"2025-08-08","v":45.85},{"d":"2025-08-13","v":45.4},{"d":"2025-08-18","v":45.4},{"d":"2025-08-21","v":45.7},{"d":"2025-08-23","v":45.95},{"d":"2025-08-27","v":46.05},{"d":"2025-08-29","v":46.35},{"d":"2025-09-02","v":46.05},{"d":"2025-09-03","v":45.35},{"d":"2025-09-05","v":45.4},{"d":"2025-09-08","v":45.0},{"d":"2025-09-10","v":44.8},{"d":"2025-09-13","v":45.05},{"d":"2025-09-15","v":44.85},{"d":"2025-09-18","v":44.9},{"d":"2025-09-20","v":45.4},{"d":"2025-09-23","v":45.6},{"d":"2025-09-26","v":45.6},{"d":"2025-09-29","v":45.2},{"d":"2025-10-03","v":45.3},{"d":"2025-10-04","v":45.05},{"d":"2025-10-07","v":45.15},{"d":"2025-10-09","v":44.9},{"d":"2025-10-11","v":44.6},{"d":"2025-10-13","v":44.2},{"d":"2025-10-14","v":43.55},{"d":"2025-10-16","v":43.35},{"d":"2025-10-18","v":42.9},{"d":"2025-10-21","v":42.8},{"d":"2025-10-23","v":42.45},{"d":"2025-10-25","v":42.3},{"d":"2025-10-28","v":43.05},{"d":"2025-10-31","v":42.65},{"d":"2025-11-02","v":42.7},{"d":"2025-11-05","v":43.1},{"d":"2025-11-07","v":42.7},{"d":"2025-11-12","v":42.4},{"d":"2025-11-13","v":42.9},{"d":"2025-11-18","v":43.9},{"d":"2025-11-19","v":43.95},{"d":"2025-11-23","v":43.7},{"d":"2025-11-25","v":43.95},{"d":"2025-11-28","v":43.45},{"d":"2025-12-02","v":43.2},{"d":"2025-12-04","v":43.0},{"d":"2025-12-08","v":43.2},{"d":"2025-12-11","v":43.4},{"d":"2025-12-14","v":43.8},{"d":"2025-12-17","v":44.35},{"d":"2025-12-19","v":44.35},{"d":"2025-12-21","v":44.05},{"d":"2025-12-24","v":43.7},{"d":"2025-12-26","v":42.8},{"d":"2025-12-27","v":42.15},{"d":"2025-12-29","v":42.55},{"d":"2025-12-31","v":42.45},{"d":"2026-01-01","v":42.75},{"d":"2026-01-05","v":42.65},{"d":"2026-01-07","v":42.85},{"d":"2026-01-09","v":42.65},{"d":"2026-01-12","v":42.6},{"d":"2026-01-13","v":42.95},{"d":"2026-01-16","v":42.25},{"d":"2026-01-19","v":42.1},{"d":"2026-01-21","v":42.05},{"d":"2026-01-24","v":42.25},{"d":"2026-01-26","v":42.2},{"d":"2026-01-27","v":41.95},{"d":"2026-01-30","v":42.15},{"d":"2026-01-31","v":42.6},{"d":"2026-02-03","v":42.25},{"d":"2026-02-05","v":43.4},{"d":"2026-02-08","v":43.2},{"d":"2026-02-10","v":43.2},{"d":"2026-02-13","v":43.45},{"d":"2026-02-16","v":43.3},{"d":"2026-02-18","v":43.4},{"d":"2026-02-21","v":42.9},{"d":"2026-02-25","v":42.55},{"d":"2026-02-27","v":41.8},{"d":"2026-03-03","v":41.45},{"d":"2026-03-06","v":41.0},{"d":"2026-03-10","v":41.25},{"d":"2026-03-13","v":40.9},{"d":"2026-03-18","v":41.4},{"d":"2026-03-20","v":41.75},{"d":"2026-03-24","v":41.25},{"d":"2026-03-27","v":41.55},{"d":"2026-03-31","v":40.8},{"d":"2026-04-03","v":40.5},{"d":"2026-04-06","v":40.8},{"d":"2026-04-10","v":41.0},{"d":"2026-04-13","v":40.45},{"d":"2026-04-15","v":40.6},{"d":"2026-04-20","v":40.45},{"d":"2026-04-21","v":40.15},{"d":"2026-04-24","v":40.4},{"d":"2026-04-29","v":39.6},{"d":"2026-05-02","v":39.85},{"d":"2026-05-04","v":39.85},{"d":"2026-05-06","v":39.55},{"d":"2026-05-08","v":39.95},{"d":"2026-05-12","v":40.0},{"d":"2026-05-14","v":40.4},{"d":"2026-05-15","v":40.5},{"d":"2026-05-19","v":40.1},{"d":"2026-05-21","v":40.55},{"d":"2026-05-23","v":40.25},{"d":"2026-05-26","v":41.0},{"d":"2026-05-29","v":40.65},{"d":"2026-06-01","v":40.3},{"d":"2026-06-05","v":40.6},{"d":"2026-06-09","v":40.8},{"d":"2026-06-12","v":40.4},{"d":"2026-06-16","v":40.25},{"d":"2026-06-18","v":40.8},{"d":"2026-06-20","v":40.95},{"d":"2026-06-23","v":41.15},{"d":"2026-06-25","v":41.0},{"d":"2026-06-27","v":41.15},{"d":"2026-06-30","v":41.2},{"d":"2026-07-02","v":40.8},{"d":"2026-07-04","v":41.05},{"d":"2026-07-07","v":40.9},{"d":"2026-07-09","v":40.15},{"d":"2026-07-10","v":39.6},{"d":"2026-07-13","v":39.15}
],
"footer": [
{"line":"1","label":"Source:","text":"Real Clear Politics, Bloomberg, smzh ag. 03/08/2026"},
{"line":"2","label":"Note:","text":"The chart shows the development of President Trump’s approval ratings in various categories."},
{"line":"3","label":"","text":"Current ratings suggest that the Republicans could lose Congressional seats in the midterms."}
]
},
"vconcat": [
{
 "width": 2311,
 "height": 1406,
 "encoding": {
  "x": {"field": "d", "type": "temporal", "scale": {"domain": ["2025-01-01", "2026-07-14"]},
        "axis": {"format": "%m.%Y", "tickCount": {"interval": "month", "step": 3}, "grid": false, "domain": true, "domainColor": "#d6d7da", "domainWidth": 3, "ticks": true, "tickColor": "#d6d7da", "tickWidth": 3, "tickSize": 19, "labelPadding": 38, "title": null, "labelFlush": false, "labelOverlap": false}},
  "y": {"field": "v", "type": "quantitative", "scale": {"domain": [25, 55]},
        "axis": {"values": [25, 30, 35, 40, 45, 50, 55], "labelExpr": "datum.value + '%'", "grid": true, "gridColor": "#dcdde0", "gridWidth": 3, "domain": false, "ticks": false, "labelPadding": 62, "title": "Approval rating", "titlePadding": 68, "titleY": 733}}
 },
 "layer": [
  {"data": {"name": "inflation"}, "mark": {"type": "line", "strokeWidth": 4, "strokeJoin": "round"},
   "encoding": {"color": {"datum": "Inflation", "type": "nominal",
     "scale": {"domain": ["Immigration", "Overall job approval", "Foreign policy", "Economy", "Inflation"], "range": ["#9d2b8d", "#be1e2d", "#0f2b46", "#1b6282", "#169fd5"]},
     "legend": {"title": null, "orient": "none", "legendX": 2473, "legendY": 473, "direction": "vertical", "symbolType": "M-2,0H2", "symbolSize": 5625, "symbolStrokeWidth": 4, "labelFont": "Lato", "labelFontSize": 63, "labelColor": "#111111", "labelOffset": 59, "rowPadding": 55, "padding": 0, "labelLimit": 0,
       "encode": {"symbols": {"update": {"strokeWidth": {"signal": "datum.value === 'Overall job approval' ? 13 : 4"}, "strokeCap": {"value": "round"}}}}}}}},
  {"data": {"name": "economy"}, "mark": {"type": "line", "strokeWidth": 4, "strokeJoin": "round"}, "encoding": {"color": {"datum": "Economy", "type": "nominal"}}},
  {"data": {"name": "foreign"}, "mark": {"type": "line", "strokeWidth": 4, "strokeJoin": "round"}, "encoding": {"color": {"datum": "Foreign policy", "type": "nominal"}}},
  {"data": {"name": "immigration"}, "mark": {"type": "line", "strokeWidth": 4, "strokeJoin": "round"}, "encoding": {"color": {"datum": "Immigration", "type": "nominal"}}},
  {"data": {"name": "overall"}, "mark": {"type": "line", "strokeWidth": 12, "strokeJoin": "round", "strokeCap": "round"}, "encoding": {"color": {"datum": "Overall job approval", "type": "nominal"}}}
 ]
},
{
 "width": 2311,
 "height": 240,
 "data": {"name": "footer"},
 "encoding": {"y": {"field": "line", "type": "ordinal", "scale": {"type": "point", "padding": 0.5, "domain": ["1", "2", "3"]}, "axis": null}, "x": {"value": 0}},
 "layer": [
  {"mark": {"type": "text", "align": "left", "baseline": "alphabetic", "font": "Lato", "fontSize": 68, "fontWeight": "bold", "color": "#111111", "dx": -456}, "encoding": {"text": {"field": "label"}}},
  {"transform": [{"filter": "datum.line == '1'"}], "mark": {"type": "text", "align": "left", "baseline": "alphabetic", "font": "Lato", "fontSize": 68, "color": "#111111", "dx": -199}, "encoding": {"text": {"field": "text"}}},
  {"transform": [{"filter": "datum.line == '2'"}], "mark": {"type": "text", "align": "left", "baseline": "alphabetic", "font": "Lato", "fontSize": 68, "color": "#111111", "dx": -262}, "encoding": {"text": {"field": "text"}}},
  {"transform": [{"filter": "datum.line == '3'"}], "mark": {"type": "text", "align": "left", "baseline": "alphabetic", "font": "Lato", "fontSize": 68, "color": "#111111", "dx": -456}, "encoding": {"text": {"field": "text"}}}
 ]
}
]
}
